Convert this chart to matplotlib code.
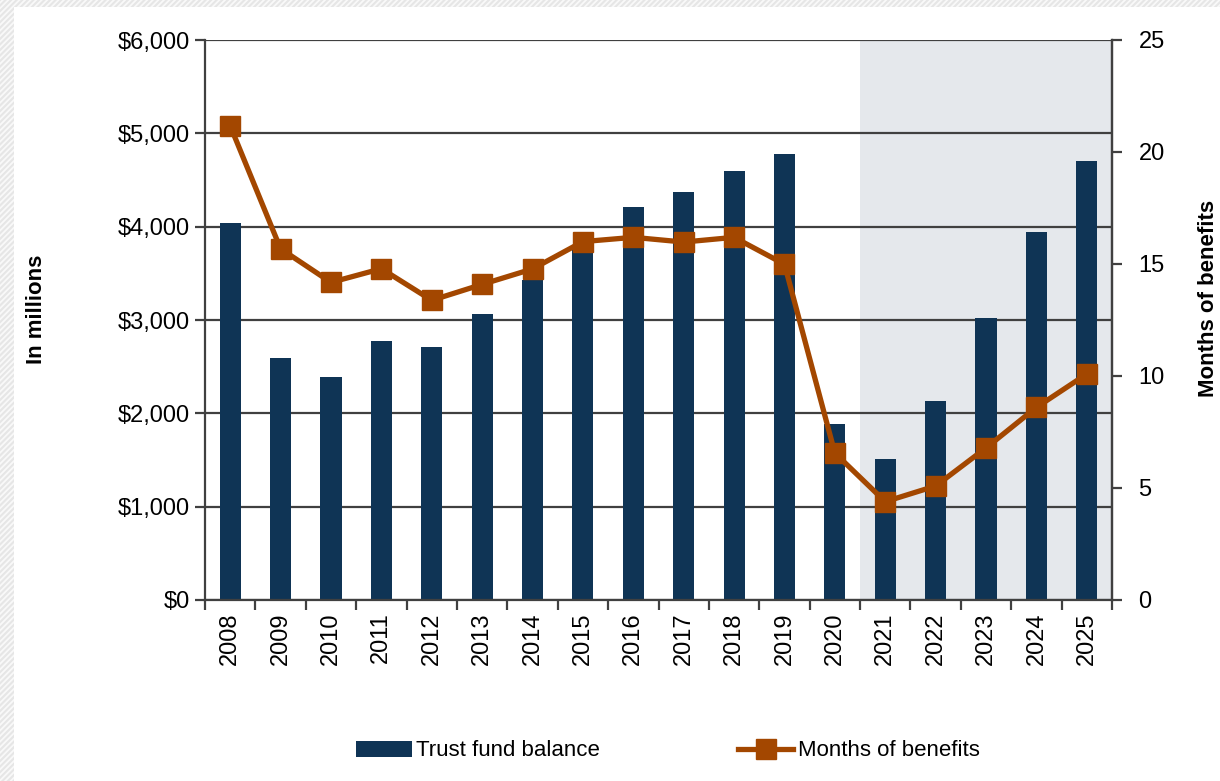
import numpy as np
import matplotlib
matplotlib.use("Agg")
import matplotlib.pyplot as plt
from matplotlib.patches import Rectangle

plt.rcParams['font.family'] = ['Liberation Sans Narrow', 'Liberation Sans', 'DejaVu Sans']
plt.rcParams['hatch.color'] = '#e6e6e6'
plt.rcParams['hatch.linewidth'] = 1.5

# data
years = [str(y) for y in range(2008, 2026)]
balance = [4040, 2590, 2390, 2770, 2710, 3065, 3425, 3780, 4210,
           4370, 4600, 4775, 1885, 1510, 2130, 3020, 3945, 4705]
months = [21.17, 15.68, 14.18, 14.79, 13.38, 14.09, 14.78, 16.0, 16.19,
          15.98, 16.19, 14.99, 6.56, 4.39, 5.09, 6.79, 8.60, 10.09]
balance_ticks = [0, 1000, 2000, 3000, 4000, 5000, 6000]
month_ticks = [0, 5, 10, 15, 20, 25]
forecast_start = 2021

bar_color = '#0f3455'
line_color = '#a34700'
grid_color = '#404040'
shade_color = '#e5e8ec'

W, H = 1220, 781
fig = plt.figure(figsize=(W / 100, H / 100), dpi=100)
fig.patch.set_facecolor('white')

# hatched frame around the white panel
fig.patches.append(Rectangle((0, 0), 1, 1, transform=fig.transFigure,
                             facecolor='#f9f9f9', edgecolor='#e6e6e6',
                             hatch='//////', linewidth=0, zorder=-10))
fig.patches.append(Rectangle((14 / W, 0), 1, 1 - 7 / H, transform=fig.transFigure,
                             facecolor='white', edgecolor='none', zorder=-9))

ax = fig.add_axes([205 / W, 1 - 600 / H, (1112 - 205) / W, (600 - 40) / H])
ax.set_facecolor('none')
x = np.arange(len(years))

# shaded projection region
fi = years.index(str(forecast_start))
ax.axvspan(fi - 0.5, len(years) - 0.5, color=shade_color, zorder=0, lw=0)

ax.bar(x, balance, width=0.42, color=bar_color, zorder=3, label='Trust fund balance')
ax.set_ylim(0, 6000)
ax.set_xlim(-0.5, len(years) - 0.5)
ax.set_yticks(balance_ticks)
ax.set_yticklabels(['${:,}'.format(v) for v in balance_ticks])
ax.yaxis.grid(True, color=grid_color, lw=1.6)
for g in ax.get_ygridlines():
    g.set_zorder(1)

ax.set_xticks(x)
ax.set_xticklabels(years, rotation=90)
ax.set_xticks(np.arange(-0.5, len(years)), minor=True)
ax.tick_params(axis='x', which='major', length=0, pad=9, labelsize=17)
ax.tick_params(axis='x', which='minor', length=7, width=1.6, color=grid_color, direction='out')
ax.tick_params(axis='y', length=7, width=1.6, color=grid_color, direction='out', labelsize=17, pad=4)

ax.spines['top'].set_visible(False)
for side in ['left', 'right', 'bottom']:
    ax.spines[side].set_color(grid_color)
    ax.spines[side].set_linewidth(1.6)
    ax.spines[side].set_zorder(4)

ax2 = ax.twinx()
ax2.plot(x, months, color=line_color, lw=3.8, marker='s', markersize=15,
         markerfacecolor=line_color, markeredgecolor=line_color, zorder=5,
         label='Months of benefits')
ax2.set_ylim(0, 25)
ax2.set_yticks(month_ticks)
ax2.tick_params(axis='y', length=7, width=1.6, color=grid_color, direction='out', labelsize=17, pad=12)
for side in ['top', 'left', 'bottom']:
    ax2.spines[side].set_visible(False)
ax2.spines['right'].set_color(grid_color)
ax2.spines['right'].set_linewidth(1.6)

fig.text(36 / W, 1 - 309 / H, 'In millions', rotation=90, ha='center', va='center',
         fontsize=16, fontweight='bold', family=['Liberation Sans', 'DejaVu Sans'])
fig.text(1208 / W, 1 - 298 / H, 'Months of benefits', rotation=90, ha='center', va='center',
         fontsize=16, fontweight='bold', family=['Liberation Sans', 'DejaVu Sans'])

h1, l1 = ax.get_legend_handles_labels()
h2, l2 = ax2.get_legend_handles_labels()
fig.legend(h1 + h2, l1 + l2, loc='center', bbox_to_anchor=(668 / W, 1 - 751 / H),
           ncol=2, frameon=False, fontsize=16, columnspacing=6.2, handlelength=2.5,
           handletextpad=0.2)

fig.savefig('out.png', dpi=100)
